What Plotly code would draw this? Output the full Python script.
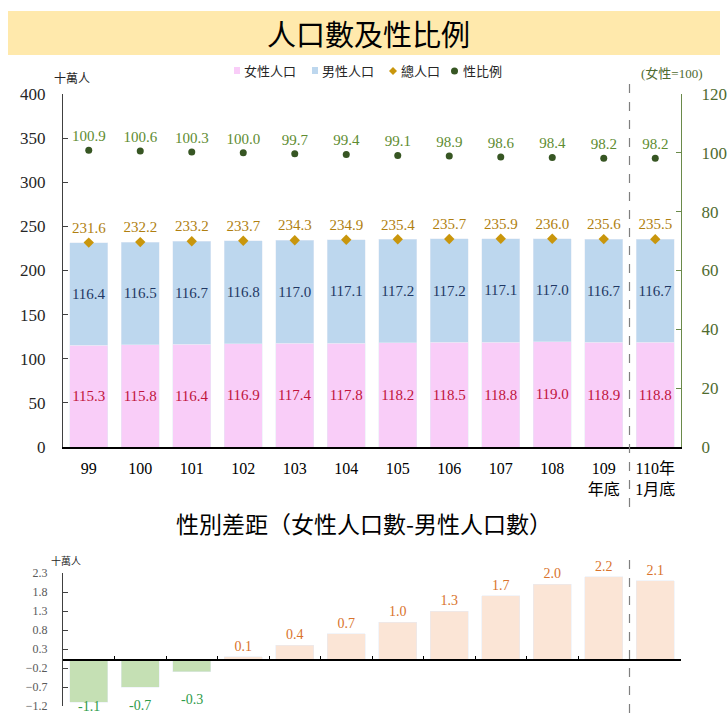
import plotly.graph_objects as go

categories = ["99", "100", "101", "102", "103", "104", "105", "106", "107", "108", "109<br>年底", "110年<br>1月底"]
female = [115.3, 115.8, 116.4, 116.9, 117.4, 117.8, 118.2, 118.5, 118.8, 119.0, 118.9, 118.8]
male = [116.4, 116.5, 116.7, 116.8, 117.0, 117.1, 117.2, 117.2, 117.1, 117.0, 116.7, 116.7]
total = [231.6, 232.2, 233.2, 233.7, 234.3, 234.9, 235.4, 235.7, 235.9, 236.0, 235.6, 235.5]
ratio = [100.9, 100.6, 100.3, 100.0, 99.7, 99.4, 99.1, 98.9, 98.6, 98.4, 98.2, 98.2]
diff = [-1.1, -0.7, -0.3, 0.1, 0.4, 0.7, 1.0, 1.3, 1.7, 2.0, 2.2, 2.1]
legend_names = ["女性人口", "男性人口", "總人口", "性比例"]

W, H = 728, 713
SERIF = "Liberation Serif, Times New Roman, serif"
CJK = "Noto Sans CJK TC, Noto Sans CJK SC, sans-serif"

C_F, C_M, C_T, C_R = "#F9CDF8", "#BDD7EE", "#C9960C", "#375623"
C_NEG_BAR, C_POS_BAR, C_NEG_TXT, C_POS_TXT = "#C5E0B4", "#FBE5D6", "#2E9B48", "#D9732C"

def py(pix):
    return 1 - pix / H

def px(pix):
    return pix / W

x0, x1 = px(63), px(681)
n = len(categories)

fig = go.Figure()

fig.add_trace(go.Bar(
    x=categories, y=female, name=legend_names[0], marker_color=C_F,
    text=[f"{v:.1f}" for v in female], textposition="inside", insidetextanchor="middle", textangle=0,
    textfont=dict(color="#C0143C", size=15, family=SERIF), constraintext="none",
    xaxis="x", yaxis="y", hoverinfo="skip"))
fig.add_trace(go.Bar(
    x=categories, y=male, name=legend_names[1], marker_color=C_M,
    text=[f"{v:.1f}" for v in male], textposition="inside", insidetextanchor="middle", textangle=0,
    textfont=dict(color="#1F3864", size=15, family=SERIF), constraintext="none",
    xaxis="x", yaxis="y", hoverinfo="skip"))
fig.add_trace(go.Scatter(
    x=categories, y=total, name=legend_names[2], mode="markers+text",
    marker=dict(symbol="diamond", color=C_T, size=8),
    text=[f"{v:.1f}" for v in total], textposition="top center",
    textfont=dict(color="#B07F10", size=15, family=SERIF),
    xaxis="x", yaxis="y", cliponaxis=False, hoverinfo="skip"))
fig.add_trace(go.Scatter(
    x=categories, y=ratio, name=legend_names[3], mode="markers+text",
    marker=dict(symbol="circle", color=C_R, size=7),
    text=[f"{v:.1f}" for v in ratio], textposition="top center",
    textfont=dict(color="#5E8C31", size=15, family=SERIF),
    xaxis="x", yaxis="y2", cliponaxis=False, hoverinfo="skip"))

fig.add_trace(go.Bar(
    x=categories, y=diff,
    marker_color=[C_NEG_BAR if v < 0 else C_POS_BAR for v in diff],
    text=["" if v < 0 else f"{v:.1f}" for v in diff], textposition="outside", textangle=0,
    textfont=dict(color=C_POS_TXT, size=14, family=SERIF),
    constraintext="none", cliponaxis=False,
    xaxis="x3", yaxis="y3", hoverinfo="skip"))

# Labels of negative gaps sit below the bars (near the bottom of the panel)
PX_PER_UNIT = (706 - 573) / 3.5
for i, v in enumerate(diff):
    if v < 0:
        end_pix = -v * PX_PER_UNIT
        drop = max(min(end_pix + 28, 45.5) - end_pix, 4)
        fig.add_annotation(x=i, y=v, xref="x3", yref="y3", text=f"{v:.1f}", showarrow=False,
                           xanchor="center", yanchor="middle", yshift=-drop,
                           font=dict(family=SERIF, size=14, color=C_NEG_TXT))

bottom_dom = [py(706), py(573)]
zero_pos = bottom_dom[0] + (0 - (-1.2)) / 3.5 * (bottom_dom[1] - bottom_dom[0])

fig.update_layout(
    width=W, height=H, margin=dict(l=0, r=0, t=0, b=0, autoexpand=False),
    paper_bgcolor="white", plot_bgcolor="white",
    barmode="stack", bargap=0.26, showlegend=False,
    font=dict(family=SERIF, color="#000000"),
    xaxis=dict(domain=[x0, x1], anchor="y", type="category", range=[-0.5, n - 0.5],
               showline=True, linecolor="#000000",
               linewidth=1.5, ticks="", showgrid=False, automargin=False, ticklabelstandoff=6,
               tickfont=dict(family=SERIF + ", " + CJK, size=16, color="#000000")),
    yaxis=dict(domain=[py(447), py(94)], anchor="x", range=[0, 400], dtick=50, automargin=False,
               showline=True, linecolor="#404040", linewidth=1.2, ticks="inside", ticklen=5,
               tickcolor="#404040", showgrid=False, zeroline=False, ticklabelstandoff=13,
               tickfont=dict(family=SERIF, size=17, color="#262626")),
    yaxis2=dict(overlaying="y", side="right", anchor="x", range=[0, 120], dtick=20, automargin=False,
                showline=True, linecolor="#6A8A4A", linewidth=1.2, ticks="inside", ticklen=5,
                tickcolor="#6A8A4A", showgrid=False, zeroline=False, ticklabelstandoff=16,
                tickfont=dict(family=SERIF, size=17, color="#4F6B2F")),
    xaxis3=dict(domain=[x0, x1], anchor="free", position=zero_pos, type="category",
                range=[-0.5, n - 0.5], automargin=False,
                showline=True, linecolor="#000000", linewidth=1.5, ticks="inside",
                tickson="boundaries", ticklen=4, tickcolor="#000000",
                showticklabels=False, showgrid=False),
    yaxis3=dict(domain=bottom_dom, anchor="x3", range=[-1.2001, 2.3001], tick0=-1.2, dtick=0.5,
                automargin=False, showline=True, linecolor="#404040", linewidth=1.2, ticks="inside",
                ticklen=5, tickcolor="#404040", showgrid=False, zeroline=False, tickformat=".1f",
                ticklabeloverflow="allow",
                ticklabelstandoff=12, tickfont=dict(family=SERIF, size=12, color="#595959")),
)

def note(text, x, y, size, color="#000000", family=CJK, xanchor="center"):
    fig.add_annotation(text=text, xref="paper", yref="paper", x=px(x), y=py(y),
                       xanchor=xanchor, yanchor="middle", showarrow=False,
                       font=dict(family=family, size=size, color=color))

# Title banner
fig.add_shape(type="rect", xref="paper", yref="paper", x0=px(8), x1=px(720), y0=py(55), y1=py(11),
              fillcolor="#FFE9AC", line=dict(width=0), layer="below")
note("人口數及性比例", 368, 33, 29)

# Manual legend
ly = 71
fig.add_shape(type="rect", xref="paper", yref="paper", x0=px(234), x1=px(240), y0=py(ly + 3), y1=py(ly - 4),
              fillcolor=C_F, line=dict(width=0))
note(legend_names[0], 242, ly, 13, "#262626", xanchor="left")
fig.add_shape(type="rect", xref="paper", yref="paper", x0=px(312), x1=px(318), y0=py(ly + 3), y1=py(ly - 4),
              fillcolor=C_M, line=dict(width=0))
note(legend_names[1], 320, ly, 13, "#262626", xanchor="left")
fig.add_shape(type="path", xref="paper", yref="paper",
              path=f"M {px(389)} {py(ly)} L {px(393)} {py(ly - 4)} L {px(397)} {py(ly)} L {px(393)} {py(ly + 4)} Z",
              fillcolor=C_T, line=dict(width=0))
note(legend_names[2], 399, ly, 13, "#262626", xanchor="left")
fig.add_shape(type="circle", xref="paper", yref="paper", x0=px(451), x1=px(458), y0=py(ly + 3.5), y1=py(ly - 3.5),
              fillcolor=C_R, line=dict(width=0))
note(legend_names[3], 461, ly, 13, "#262626", xanchor="left")

# Unit labels
note("十萬人", 72, 77, 12, "#262626")
note("(女性=100)", 672, 73, 13, "#4F6B2F", family=SERIF + ", " + CJK)
note("性別差距（女性人口數-男性人口數）", 364, 523, 23)
note("十萬人", 66, 560, 10, "#262626")

# Dashed separators
fig.add_shape(type="line", xref="x", yref="paper", x0=10.5, x1=10.5, y0=py(507), y1=py(80),
              line=dict(color="#7F7F7F", width=1.2, dash="dash"))
fig.add_shape(type="line", xref="x3", yref="paper", x0=10.5, x1=10.5, y0=0, y1=py(556),
              line=dict(color="#7F7F7F", width=1.2, dash="dash"))

fig.write_html("out.html", config={"displayModeBar": False},
               post_script="document.body.style.margin='0';document.body.style.overflow='hidden';")
